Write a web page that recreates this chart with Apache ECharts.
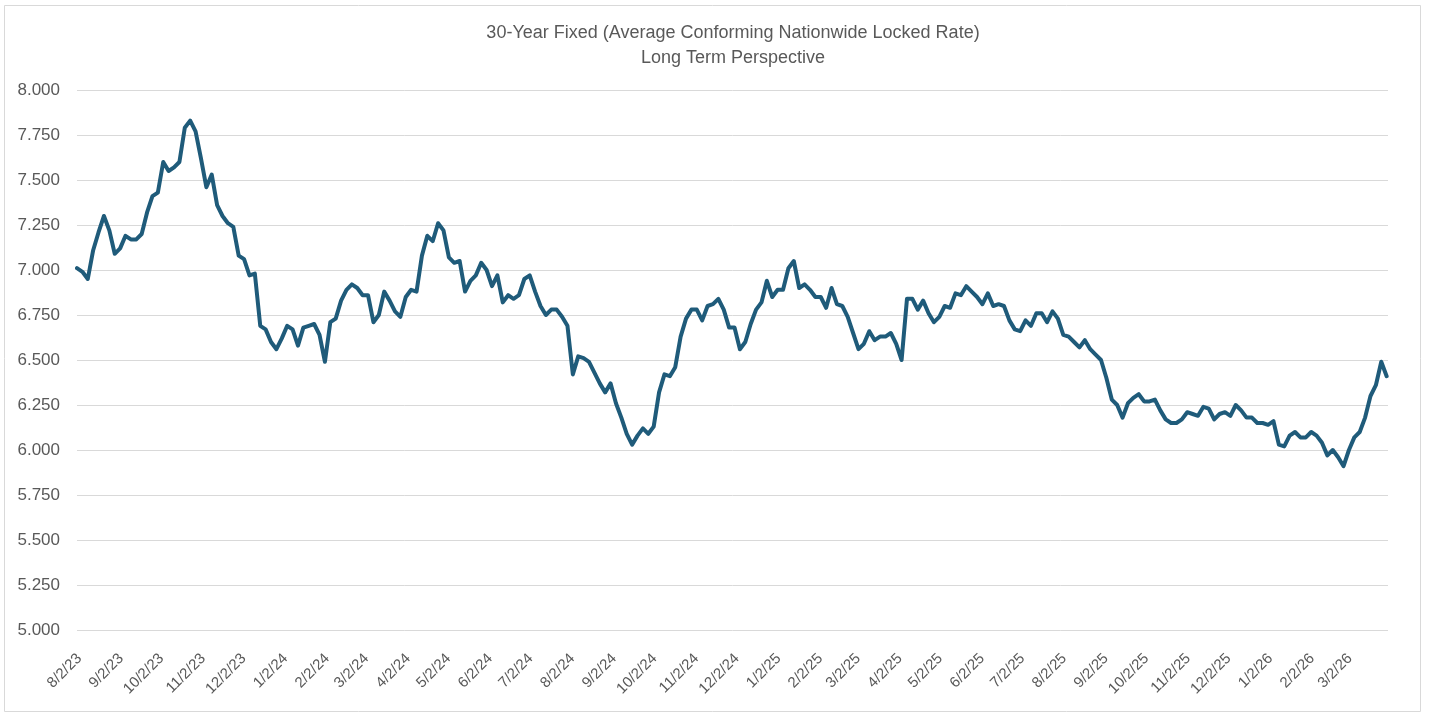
<!DOCTYPE html>
<html>
<head>
<meta charset="utf-8">
<title>30-Year Fixed</title>
<script src="https://cdn.jsdelivr.net/npm/echarts@6/dist/echarts.min.js"></script>
<style>
  html, body { margin: 0; padding: 0; background: #fff; }
  #chart { width: 1429px; height: 716px; }
</style>
</head>
<body>
<div id="chart"></div>
<script>
// first and last day on the axis
var startDate = '2023-07-26';
var endDate = '2026-03-25';

// labelled ticks on the date axis
var tickLabels = ['8/2/23', '9/2/23', '10/2/23', '11/2/23', '12/2/23',
    '1/2/24', '2/2/24', '3/2/24', '4/2/24', '5/2/24', '6/2/24', '7/2/24',
    '8/2/24', '9/2/24', '10/2/24', '11/2/24', '12/2/24',
    '1/2/25', '2/2/25', '3/2/25', '4/2/25', '5/2/25', '6/2/25', '7/2/25',
    '8/2/25', '9/2/25', '10/2/25', '11/2/25', '12/2/25',
    '1/2/26', '2/2/26', '3/2/26'];

// one reading every 4 days from startDate
var sampleStepDays = 4;
var rates = [
    7.01, 6.99, 6.95, 7.11, 7.21, 7.30, 7.22, 7.09, 7.12, 7.19,
    7.17, 7.17, 7.20, 7.32, 7.41, 7.43, 7.60, 7.55, 7.57, 7.60,
    7.79, 7.83, 7.77, 7.62, 7.46, 7.53, 7.36, 7.30, 7.26, 7.24,
    7.08, 7.06, 6.97, 6.98, 6.69, 6.67, 6.60, 6.56, 6.62, 6.69,
    6.67, 6.58, 6.68, 6.69, 6.70, 6.64, 6.49, 6.71, 6.73, 6.83,
    6.89, 6.92, 6.90, 6.86, 6.86, 6.71, 6.75, 6.88, 6.83, 6.77,
    6.74, 6.85, 6.89, 6.88, 7.08, 7.19, 7.16, 7.26, 7.22, 7.07,
    7.04, 7.05, 6.88, 6.94, 6.97, 7.04, 7.00, 6.91, 6.97, 6.82,
    6.86, 6.84, 6.86, 6.95, 6.97, 6.88, 6.80, 6.75, 6.78, 6.78,
    6.74, 6.69, 6.42, 6.52, 6.51, 6.49, 6.43, 6.37, 6.32, 6.37,
    6.26, 6.18, 6.09, 6.03, 6.08, 6.12, 6.09, 6.13, 6.32, 6.42,
    6.41, 6.46, 6.63, 6.73, 6.78, 6.78, 6.72, 6.80, 6.81, 6.84,
    6.78, 6.68, 6.68, 6.56, 6.60, 6.70, 6.78, 6.82, 6.94, 6.85,
    6.89, 6.89, 7.01, 7.05, 6.90, 6.92, 6.89, 6.85, 6.85, 6.79,
    6.90, 6.81, 6.80, 6.74, 6.65, 6.56, 6.59, 6.66, 6.61, 6.63,
    6.63, 6.65, 6.59, 6.50, 6.84, 6.84, 6.78, 6.83, 6.76, 6.71,
    6.74, 6.80, 6.79, 6.87, 6.86, 6.91, 6.88, 6.85, 6.81, 6.87,
    6.80, 6.81, 6.80, 6.72, 6.67, 6.66, 6.72, 6.69, 6.76, 6.76,
    6.71, 6.77, 6.73, 6.64, 6.63, 6.60, 6.57, 6.61, 6.56, 6.53,
    6.50, 6.40, 6.28, 6.25, 6.18, 6.26, 6.29, 6.31, 6.27, 6.27,
    6.28, 6.22, 6.17, 6.15, 6.15, 6.17, 6.21, 6.20, 6.19, 6.24,
    6.23, 6.17, 6.20, 6.21, 6.19, 6.25, 6.22, 6.18, 6.18, 6.15,
    6.15, 6.14, 6.16, 6.03, 6.02, 6.08, 6.10, 6.07, 6.07, 6.10,
    6.08, 6.04, 5.97, 6.00, 5.96, 5.91, 6.00, 6.07, 6.10, 6.18,
    6.30, 6.36, 6.49, 6.41
];

function fmt(d) {
    return (d.getUTCMonth() + 1) + '/' + d.getUTCDate() + '/' + String(d.getUTCFullYear()).slice(2);
}

// daily categories
var days = [];
var t0 = Date.parse(startDate + 'T00:00:00Z');
var t1 = Date.parse(endDate + 'T00:00:00Z');
for (var t = t0; t <= t1; t += 86400000) {
    days.push(fmt(new Date(t)));
}

var points = rates.map(function (v, i) {
    return [days[i * sampleStepDays], v];
});

var chart = echarts.init(document.getElementById('chart'));
chart.setOption({
    backgroundColor: '#ffffff',
    animation: false,
    title: {
        text: '30-Year Fixed (Average Conforming Nationwide Locked Rate)\nLong Term Perspective',
        left: 728,
        top: 16,
        textAlign: 'center',
        textStyle: {
            color: '#595959',
            fontFamily: 'Liberation Sans',
            fontSize: 18,
            fontWeight: 'normal',
            lineHeight: 25
        }
    },
    graphic: [{
        type: 'rect',
        shape: { x: 4.5, y: 5.5, width: 1416, height: 706 },
        style: { fill: 'none', stroke: '#d9d9d9', lineWidth: 1 },
        silent: true
    }],
    grid: { left: 77, right: 41, top: 90, bottom: 86 },
    xAxis: {
        type: 'category',
        data: days,
        boundaryGap: false,
        axisLine: { show: false },
        axisTick: { show: false },
        splitLine: { show: false },
        axisLabel: {
            interval: function (idx, val) { return tickLabels.indexOf(val) >= 0; },
            rotate: 45,
            margin: 19,
            padding: [0, 10, 0, 0],
            color: '#595959',
            fontFamily: 'Liberation Sans',
            fontSize: 15
        }
    },
    yAxis: {
        type: 'value',
        min: 5,
        max: 8,
        interval: 0.25,
        axisLine: { show: false },
        axisTick: { show: false },
        splitLine: { lineStyle: { color: '#d9d9d9', width: 1 } },
        axisLabel: {
            formatter: function (v) { return v.toFixed(3); },
            margin: 17,
            color: '#595959',
            fontFamily: 'Liberation Sans',
            fontSize: 17
        }
    },
    series: [{
        type: 'line',
        data: points,
        showSymbol: false,
        smooth: false,
        lineStyle: { color: '#1f5b7a', width: 4, join: 'round', cap: 'round' },
        itemStyle: { color: '#1f5b7a' }
    }]
});
</script>
</body>
</html>
